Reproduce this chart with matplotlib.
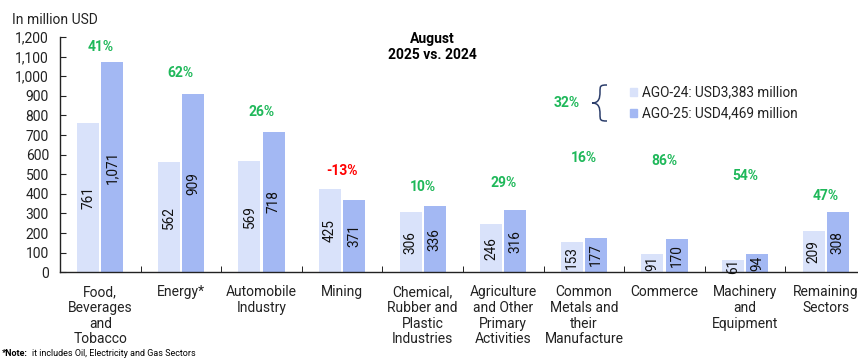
import matplotlib.pyplot as plt
import numpy as np
from matplotlib.path import Path
from matplotlib.patches import PathPatch, Rectangle
from matplotlib.ticker import FuncFormatter, MultipleLocator

plt.rcParams['font.family'] = ['Roboto', 'DejaVu Sans']

# ---- data ------------------------------------------------------------------
sectors = [
    "Food,\nBeverages\nand\nTobacco", "Energy*", "Automobile\nIndustry", "Mining",
    "Chemical,\nRubber and\nPlastic\nIndustries",
    "Agriculture\nand Other\nPrimary\nActivities",
    "Common\nMetals and\ntheir\nManufacture", "Commerce",
    "Machinery\nand\nEquipment", "Remaining\nSectors",
]
ago_24 = [761, 562, 569, 425, 306, 246, 153, 91, 61, 209]
ago_25 = [1071, 909, 718, 371, 336, 316, 177, 170, 94, 308]
change_pct = [41, 62, 26, -13, 10, 29, 16, 86, 54, 47]
total_24 = 3383
total_25 = 4469
total_pct = 32

# hand-placed heights of the % labels (data units, as in the source chart)
pct_label_y = [1148, 1015, 816, 515, 434, 454, 582, 566, 490, 388]

LIGHT = "#d9e2fa"
DARK = "#a3b8f3"
GREEN = "#1fb85a"
RED = "#ff0000"

W, H = 858, 360
fig = plt.figure(figsize=(W / 100, H / 100), dpi=100)
ax = fig.add_axes([60 / W, 1 - 272.3 / H, 806 / W, 235.3 / H])

x = np.arange(len(sectors))
bw = 0.273
off = 0.149
ax.bar(x - off, ago_24, bw, color=LIGHT, zorder=2)
ax.bar(x + off, ago_25, bw, color=DARK, zorder=2)

for i in range(len(sectors)):
    for xx, v in ((x[i] - off, ago_24[i]), (x[i] + off, ago_25[i])):
        ax.text(xx, v / 2, f"{v:,}", rotation=90, ha="center", va="center",
                fontsize=9.8, color="#111111", zorder=3)
    p = change_pct[i]
    ax.text(x[i], pct_label_y[i], f"{p}%", ha="center", va="center",
            fontsize=10, fontweight="bold", color=GREEN if p >= 0 else RED)

ax.set_xlim(-0.5, len(sectors) - 0.5)
ax.set_ylim(0, 1200)
ax.yaxis.set_major_locator(MultipleLocator(100))
ax.yaxis.set_major_formatter(FuncFormatter(lambda v, _: f"{int(v):,}"))
ax.tick_params(axis="y", direction="in", length=4, labelsize=10, pad=8,
               colors="#222222")
ax.set_xticks(x)
ax.set_xticklabels(sectors, fontsize=10, linespacing=1.17)
ax.tick_params(axis="x", length=0, pad=9, colors="#222222")
ax.set_xticks(np.arange(len(sectors) + 1) - 0.5, minor=True)
ax.tick_params(axis="x", which="minor", direction="in", length=4)
for s in ("top", "right"):
    ax.spines[s].set_visible(False)
for s in ("left", "bottom"):
    ax.spines[s].set_color("#222222")
    ax.spines[s].set_linewidth(1.0)

# ---- texts -----------------------------------------------------------------
fig.text(12 / W, 1 - 20 / H, "In million USD", fontsize=10, va="center",
         color="#222222")
fig.text(432 / W, 1 - 47 / H, "August\n2025 vs. 2024", ha="center",
         va="center", fontsize=10, fontweight="bold", linespacing=1.25)

# legend with totals
for yy, c, lab in ((92, LIGHT, f"AGO-24: USD{total_24:,} million"),
                   (113, DARK, f"AGO-25: USD{total_25:,} million")):
    fig.patches.append(Rectangle(((633 - 3.5) / W, 1 - (yy + 3.5) / H), 7 / W, 7 / H,
                                 transform=fig.transFigure, color=c))
    fig.text(642 / W, 1 - yy / H, lab, fontsize=9.8, va="center",
             color="#222222")
fig.text(567 / W, 1 - 103 / H, f"{total_pct}%", fontsize=10, ha="center",
         va="center", fontweight="bold", color=GREEN)

# curly brace
pts = [(607, 85), (600, 85), (600, 86), (600, 92), (600, 98), (599, 103),
       (592, 103), (599, 103), (600, 108), (600, 114), (600, 120), (600, 121),
       (607, 121)]
codes = [Path.MOVETO] + [Path.CURVE4] * 12
pts = [(px / W, 1 - py / H) for px, py in pts]
fig.patches.append(PathPatch(Path(pts, codes), transform=fig.transFigure,
                             fill=False, edgecolor="#2c3e6b", linewidth=1.1))

fig.text(2 / W, 1 - 354 / H, r"*Note:", fontsize=6.5, fontweight="bold",
         va="center")
fig.text(32 / W, 1 - 354 / H, "it includes Oil, Electricity and Gas Sectors",
         fontsize=6.5, va="center")

fig.savefig("out.png", dpi=100)
